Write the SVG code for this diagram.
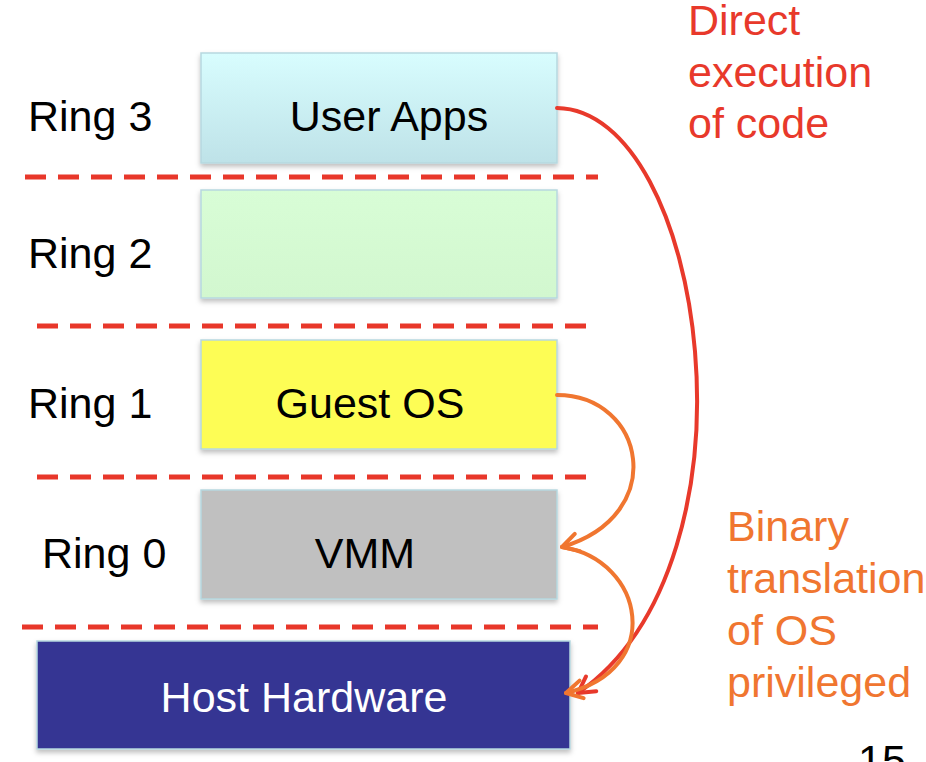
<svg xmlns="http://www.w3.org/2000/svg" width="926" height="762" viewBox="0 0 926 762">
  <defs>
    <linearGradient id="gUser" x1="0" y1="0" x2="0" y2="1">
      <stop offset="0" stop-color="#d8fdfe"/>
      <stop offset="1" stop-color="#bee2e8"/>
    </linearGradient>
    <linearGradient id="gR2" x1="0" y1="0" x2="0" y2="1">
      <stop offset="0" stop-color="#d8fdd6"/>
      <stop offset="1" stop-color="#d2f7cf"/>
    </linearGradient>
    <filter id="sh" x="-5%" y="-5%" width="112%" height="120%">
      <feDropShadow dx="0" dy="3" stdDeviation="2.5" flood-color="#000" flood-opacity="0.25"/>
    </filter>
    <marker id="arrR" markerWidth="24" markerHeight="24" refX="20" refY="12" orient="auto" markerUnits="userSpaceOnUse" viewBox="0 0 24 24">
      <path d="M4,3 L20,12 L4,21" fill="none" stroke="#e8392b" stroke-width="4" stroke-linecap="round" stroke-linejoin="round"/>
    </marker>
    <marker id="arrO" markerWidth="24" markerHeight="24" refX="20" refY="12" orient="auto" markerUnits="userSpaceOnUse" viewBox="0 0 24 24">
      <path d="M4,3 L20,12 L4,21" fill="none" stroke="#f07630" stroke-width="4" stroke-linecap="round" stroke-linejoin="round"/>
    </marker>
  </defs>
  <style>
    .box { stroke: #b6d8df; stroke-width: 1.5; filter: url(#sh); }
    .lbl { font-family: "Liberation Sans", Arial, sans-serif; font-size: 43px; fill: #000; }
    .ctr { text-anchor: middle; }
    .dash { stroke: #e8372a; stroke-width: 5; stroke-dasharray: 21 12; fill: none; }
    .red { font-family: "Liberation Sans", Arial, sans-serif; font-size: 43px; fill: #e8392b; }
    .org { font-family: "Liberation Sans", Arial, sans-serif; font-size: 43px; fill: #f07630; }
  </style>
  <rect width="926" height="762" fill="#ffffff"/>

  <g id="dividers">
    <line class="dash" x1="25" y1="177" x2="598" y2="177"/>
    <line class="dash" x1="37" y1="326" x2="586" y2="326"/>
    <line class="dash" x1="37" y1="477" x2="586" y2="477"/>
    <line class="dash" x1="22" y1="627" x2="598" y2="627"/>
  </g>

  <g id="ring-labels">
    <text class="lbl" x="28" y="131">Ring 3</text>
    <text class="lbl" x="28" y="268">Ring 2</text>
    <text class="lbl" x="28" y="418">Ring 1</text>
    <text class="lbl" x="42" y="568">Ring 0</text>
  </g>

  <g id="user-apps">
    <rect class="box" x="201" y="53" width="356" height="110" fill="url(#gUser)"/>
    <text class="lbl ctr" x="389" y="131">User Apps</text>
  </g>
  <g id="ring2-box">
    <rect class="box" x="201" y="190" width="356" height="108" fill="url(#gR2)"/>
  </g>
  <g id="guest-os">
    <rect class="box" x="201" y="340" width="356" height="109" fill="#fdfd55"/>
    <text class="lbl ctr" x="370" y="418">Guest OS</text>
  </g>
  <g id="vmm">
    <rect class="box" x="201" y="490" width="356" height="109" fill="#c0c0c0"/>
    <text class="lbl ctr" x="365" y="568">VMM</text>
  </g>
  <g id="host-hardware">
    <rect class="box" x="37" y="641" width="533" height="108" fill="#343493"/>
    <text class="lbl ctr" x="304" y="712" style="fill:#ffffff">Host Hardware</text>
  </g>

  <g id="connectors" fill="none" stroke-linecap="round">
    <path d="M557,108 C705,110 770,560 578,693" stroke="#e8392b" stroke-width="4" marker-end="url(#arrR)"/>
    <path d="M557,395 C645,395 670,515 562,547" stroke="#f07630" stroke-width="4" marker-end="url(#arrO)"/>
    <path d="M562,547 C645,560 665,670 566,693" stroke="#f07630" stroke-width="4" marker-end="url(#arrO)"/>
  </g>

  <g id="note-direct">
    <text class="red" x="688" y="35">Direct</text>
    <text class="red" x="688" y="87">execution</text>
    <text class="red" x="688" y="138">of code</text>
  </g>
  <g id="note-binary">
    <text class="org" x="727" y="541">Binary</text>
    <text class="org" x="727" y="593">translation</text>
    <text class="org" x="727" y="645">of OS</text>
    <text class="org" x="727" y="697">privileged</text>
  </g>
  <g id="page-number">
    <text class="lbl" x="858" y="775">15</text>
  </g>
</svg>
